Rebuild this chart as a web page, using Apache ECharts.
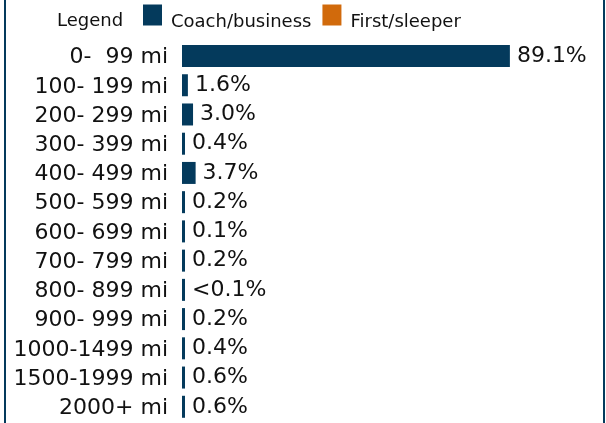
<!DOCTYPE html>
<html>
<head>
<meta charset="utf-8">
<script src="https://cdn.jsdelivr.net/npm/echarts@6/dist/echarts.min.js"></script>
<style>
  html, body { margin: 0; padding: 0; background: #fff; }
  #main { width: 606px; height: 423px; }
</style>
</head>
<body>
<div id="main"></div>
<script>
// distance bands, top to bottom
var distances = ['0-  99 mi', '100- 199 mi', '200- 299 mi', '300- 399 mi', '400- 499 mi',
    '500- 599 mi', '600- 699 mi', '700- 799 mi', '800- 899 mi', '900- 999 mi',
    '1000-1499 mi', '1500-1999 mi', '2000+ mi'];
// share of trips (%), coach/business
var coachShare = [89.1, 1.6, 3.0, 0.4, 3.7, 0.2, 0.1, 0.2, 0.05, 0.2, 0.4, 0.6, 0.6];
var coachLabels = ['89.1%', '1.6%', '3.0%', '0.4%', '3.7%', '0.2%', '0.1%', '0.2%', '<0.1%',
    '0.2%', '0.4%', '0.6%', '0.6%'];
// first/sleeper has no bars shown
var firstShare = [];

var navy = '#043a5c';
var orange = '#d16a0c';
var font = 'DejaVu Sans';

var myChart = echarts.init(document.getElementById('main'));
var option = {
    animation: false,
    textStyle: { fontFamily: font },
    graphic: [
        { type: 'rect', shape: { x: 4, y: 0, width: 2, height: 423 }, style: { fill: navy } },
        { type: 'rect', shape: { x: 603, y: 0, width: 2, height: 423 }, style: { fill: navy } },
        { type: 'text', style: { x: 57, y: 21, text: 'Legend', fill: '#111',
            font: '18px "DejaVu Sans"', verticalAlign: 'middle' } }
    ],
    legend: {
        left: 143,
        top: -1,
        padding: 0,
        icon: 'rect',
        itemWidth: 19,
        itemHeight: 21,
        itemGap: 11,
        // push the text a little below the squares, like the original
        formatter: function (name) { return '\n' + name; },
        textStyle: { fontSize: 18, lineHeight: 14, color: '#111', fontFamily: font, padding: [0, 0, 0, 4] },
        data: ['Coach/business', 'First/sleeper']
    },
    grid: { left: 182, top: 43, width: 368, height: 382 },
    xAxis: {
        type: 'value', min: 0, max: 100, show: false
    },
    yAxis: {
        type: 'category',
        inverse: true,
        data: distances,
        axisLine: { show: false },
        axisTick: { show: false },
        axisLabel: { fontSize: 22, color: '#111', margin: 14, fontFamily: font }
    },
    series: [
        {
            name: 'Coach/business',
            type: 'bar',
            data: coachShare,
            barWidth: 22,
            barMinHeight: 3,
            itemStyle: { color: navy },
            label: {
                show: true, position: 'right', distance: 7,
                fontSize: 22, color: '#111', fontFamily: font,
                formatter: function (p) { return coachLabels[p.dataIndex]; }
            }
        },
        {
            name: 'First/sleeper',
            type: 'bar',
            data: firstShare,
            itemStyle: { color: orange }
        }
    ]
};
myChart.setOption(option);
</script>
</body>
</html>
